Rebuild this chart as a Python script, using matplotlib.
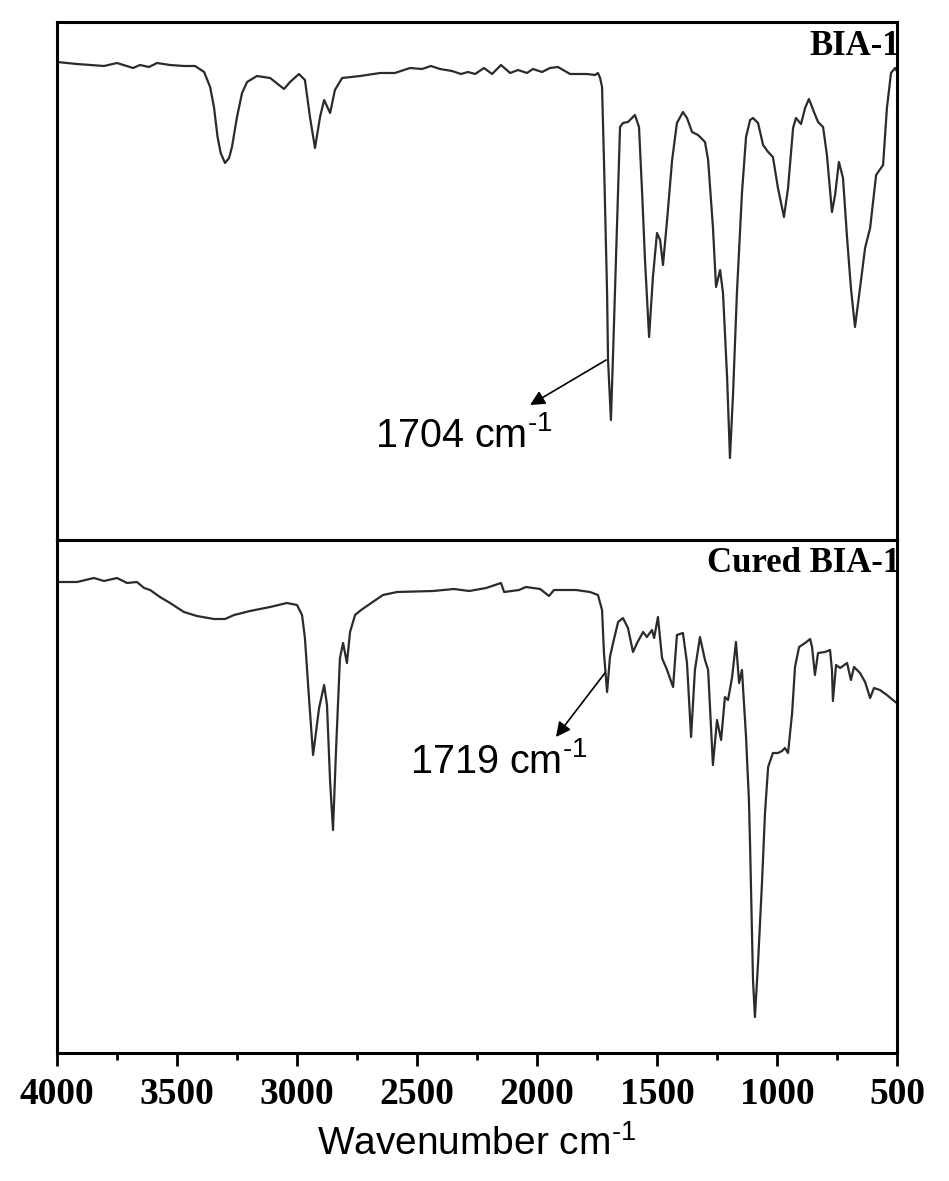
import matplotlib
matplotlib.use("Agg")
import matplotlib.pyplot as plt
from matplotlib.ticker import MultipleLocator

plt.rcParams['mathtext.fontset'] = 'custom'
plt.rcParams['mathtext.rm'] = 'Liberation Sans'
plt.rcParams['mathtext.it'] = 'Liberation Sans'

# ---- BIA-1 spectrum (wavenumber cm-1, transmittance a.u.) ----
wn_bia = [4000, 3917, 3862, 3804, 3750, 3683, 3654, 3617, 3583, 3529, 3471, 3425,
          3387, 3362, 3346, 3331, 3318, 3300, 3283, 3271, 3250, 3229, 3208, 3167,
          3112, 3054, 3029,
          2992, 2967, 2946, 2925, 2904, 2887, 2862, 2842, 2812, 2737, 2654, 2592,
          2529, 2479, 2442, 2404, 2354, 2317, 2287, 2258, 2221, 2187, 2150, 2112,
          2079, 2042, 2017, 1979, 1946, 1913, 1862, 1792, 1758, 1746, 1737, 1729,
          1721, 1708, 1704, 1692, 1683, 1667, 1654, 1642, 1621, 1592, 1575, 1562,
          1550, 1533, 1517, 1500, 1487, 1475, 1458, 1437, 1417, 1392, 1375, 1354,
          1329, 1300, 1287, 1267, 1254, 1237, 1225, 1208, 1196, 1183, 1167, 1146,
          1129, 1112, 1100, 1079, 1058, 1037, 1017, 996, 971, 954, 933, 921,
          900, 883, 867, 846, 829, 808, 792, 771, 758, 742, 725, 708,
          692, 675, 654, 633, 612, 587, 558, 542, 525, 508, 496]
t_bia = [478, 476, 475, 474, 477, 472, 475, 473, 477, 475, 474, 474,
         468, 453, 433, 403, 387, 377, 382, 393, 423, 447, 458, 464,
         462, 451, 458,
         466, 460, 423, 392, 423, 440, 427, 450, 462, 464, 467, 467,
         472, 471, 474, 471, 469, 466, 468, 466, 472, 466, 475, 467,
         470, 467, 471, 468, 472, 473, 466, 466, 465, 467, 462, 453,
         380, 247, 180, 120, 187, 313, 413, 417, 418, 425, 413, 347,
         280, 203, 263, 307, 300, 275, 320, 380, 417, 428, 422, 408,
         405, 398, 380, 313, 253, 270, 247, 163, 82, 147, 247, 347,
         403, 420, 422, 417, 395, 388, 383, 352, 323, 352, 412, 422,
         416, 432, 441, 428, 418, 413, 385, 328, 345, 378, 362, 302,
         252, 213, 252, 292, 312, 365, 375, 432, 467, 472, 467]

# ---- Cured BIA-1 spectrum ----
wn_cured = [4000, 3917, 3846, 3804, 3750, 3708, 3667, 3637, 3612, 3571, 3529, 3471,
            3417, 3346, 3300, 3262, 3196, 3112, 3042, 3000, 2979, 2967, 2950, 2933,
            2908, 2887, 2875, 2862, 2850, 2837, 2821, 2808, 2792, 2779, 2758, 2733,
            2642, 2583, 2433, 2346, 2283, 2212, 2150, 2137, 2075, 2046, 1987, 1950,
            1929, 1837, 1779, 1746, 1729, 1721, 1708, 1696, 1683, 1662, 1642, 1621,
            1600, 1583, 1558, 1542, 1521, 1512, 1496, 1479, 1458, 1433, 1417, 1392,
            1375, 1358, 1342, 1321, 1300, 1287, 1267, 1250, 1233, 1217, 1204, 1187,
            1171, 1158, 1146, 1129, 1117, 1112, 1100, 1092, 1079, 1062, 1050, 1037,
            1017, 996, 979, 967, 954, 937, 925, 908, 883, 862, 854, 842,
            829, 800, 779, 771, 767, 754, 737, 708, 692, 679, 654, 633,
            612, 596, 571, 542, 517, 496]
t_cured = [471, 471, 475, 472, 475, 470, 471, 465, 463, 456, 450, 441,
           437, 434, 434, 438, 442, 446, 450, 448, 438, 415, 355, 298,
           345, 368, 348, 271, 223, 305, 395, 410, 390, 421, 438, 443,
           458, 461, 462, 464, 462, 465, 470, 461, 463, 466, 464, 457,
           463, 463, 461, 458, 443, 400, 361, 396, 410, 431, 435, 425,
           401, 410, 421, 416, 423, 415, 436, 395, 383, 366, 418, 420,
           390, 316, 383, 416, 393, 383, 288, 333, 313, 356, 353, 376,
           411, 370, 383, 316, 253, 206, 73, 36, 90, 173, 240, 286,
           300, 300, 302, 305, 300, 340, 386, 406, 410, 414, 406, 378,
           400, 401, 403, 383, 352, 388, 385, 390, 373, 386, 380, 371,
           355, 365, 363, 358, 353, 349]

sample_labels = ["BIA-1", "Cured BIA-1"]
peak_labels = ["1704", "1719"]
xticks = [4000, 3500, 3000, 2500, 2000, 1500, 1000, 500]

W, H = 949, 1181
fig = plt.figure(figsize=(W / 100, H / 100), dpi=100)
left = 57 / W
width = 840 / W
ax1 = fig.add_axes([left, 1 - 540 / H, width, 518 / H])
ax2 = fig.add_axes([left, 1 - 1053 / H, width, 513 / H])

line_kw = dict(color='#2b2b2b', lw=1.6)
ax1.plot(wn_bia, t_bia, **line_kw)
ax2.plot(wn_cured, t_cured, **line_kw)

ax1.set_ylim(0, 518)
ax2.set_ylim(0, 513)
for ax in (ax1, ax2):
    ax.set_xlim(4000, 500)
    ax.set_yticks([])
    for s in ax.spines.values():
        s.set_linewidth(2.2)
        s.set_color('black')

ax1.set_xticks([])
ax2.set_xticks(xticks)
ax2.xaxis.set_minor_locator(MultipleLocator(250))
ax2.tick_params(axis='x', which='major', direction='out', length=9, width=2, pad=8)
ax2.tick_params(axis='x', which='minor', direction='out', length=5, width=2)
for lab in ax2.get_xticklabels():
    lab.set_fontfamily('Liberation Serif')
    lab.set_fontweight('bold')
    lab.set_fontsize(27)

ax2.set_xlabel(r'Wavenumber cm$^{\text{-}1}$', fontfamily='Liberation Sans',
               fontsize=28, labelpad=10)

title_kw = dict(fontfamily='Liberation Serif', fontweight='bold', fontsize=25,
                ha='right', va='baseline')
ax1.text(1.004, 0.937, sample_labels[0], transform=ax1.transAxes, **title_kw)
ax2.text(1.004, 0.937, sample_labels[1], transform=ax2.transAxes, **title_kw)

arrow_kw = dict(arrowstyle='-|>', color='black', lw=1.2, mutation_scale=22,
                shrinkA=0, shrinkB=0)
ann_kw = dict(fontfamily='Liberation Sans', fontsize=28.5, ha='left', va='baseline')

ax1.annotate('', xy=(2029, 135), xytext=(1712, 180), arrowprops=arrow_kw)
ax1.text(2675, 93, peak_labels[0] + r' cm$^{\text{-}1}$', **ann_kw)

ax2.annotate('', xy=(1921, 316), xytext=(1717, 380), arrowprops=arrow_kw)
ax2.text(2529, 280, peak_labels[1] + r' cm$^{\text{-}1}$', **ann_kw)

fig.savefig('out.png', dpi=100)
